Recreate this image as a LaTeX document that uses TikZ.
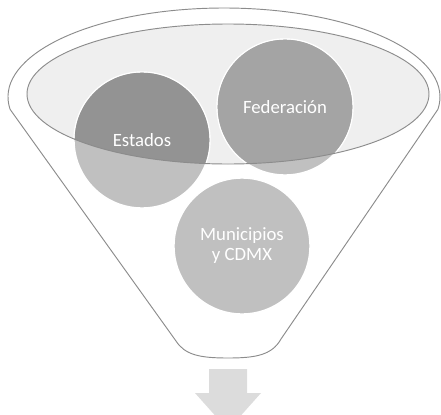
\documentclass[tikz,border=0pt]{standalone}
\usepackage{fontspec}
\setmainfont{Carlito}
\definecolor{linea}{HTML}{8C8C8C}
\definecolor{apertura}{HTML}{EFEFEF}
\definecolor{claro}{HTML}{C0C0C0}
\definecolor{oscuroA}{HTML}{939393}
\definecolor{oscuroB}{HTML}{A4A4A4}
\definecolor{flecha}{HTML}{DCDCDC}
\tikzset{
  rotulo/.style={text=white, align=center, font=\fontsize{16}{17}\selectfont},
  burbuja/.style={fill=claro, draw=white, line width=1.2pt}
}
\begin{document}
\begin{tikzpicture}[x=0.03cm,y=-0.03cm]
                \useasboundingbox (0,0) rectangle (441,415);
                \clip (0,0) rectangle (441,415);

                % Embudo
                \draw[linea, line width=0.8pt, fill=white] (224,97) ++(172:216 and 89)
                    arc[start angle=172, end angle=368, x radius=216, y radius=89]
                    -- (281,339) .. controls (272,355) and (256,358) .. (228,358)
                    .. controls (200,358) and (185,355) .. (176,341) -- cycle;

                % Apertura
                \fill[apertura] (228,94) ellipse[x radius=201, y radius=70];

                % Circulos
                \coordinate (c-est) at (142,140);
                \coordinate (c-fed) at (285,107);
                \coordinate (c-mun) at (242,246);
                \draw[burbuja] (c-est) circle[radius=68];
                \draw[burbuja] (c-fed) circle[radius=68];
                \draw[burbuja] (c-mun) circle[radius=68];
                \begin{scope}
                    \clip (228,94) ellipse[x radius=201, y radius=70];
                    \fill[oscuroA] (c-est) circle[radius=67.3];
                    \fill[oscuroB] (c-fed) circle[radius=67.3];
                \end{scope}
                \draw[linea, line width=0.8pt] (228,94) ellipse[x radius=201, y radius=70];

                % Textos
                \node[rotulo] (estados) at (c-est) {Estados};
                \node[rotulo] (federacion) at (c-fed) {Federación};
                \node[rotulo] (municipios) at (c-mun) {Municipios\\y CDMX};

                % Flecha
                \fill[flecha] (209,369) -- (247,369) -- (247,393) -- (261,393)
                    -- (228,430) -- (195,393) -- (209,393) -- cycle;
            \end{tikzpicture}
\end{document}
